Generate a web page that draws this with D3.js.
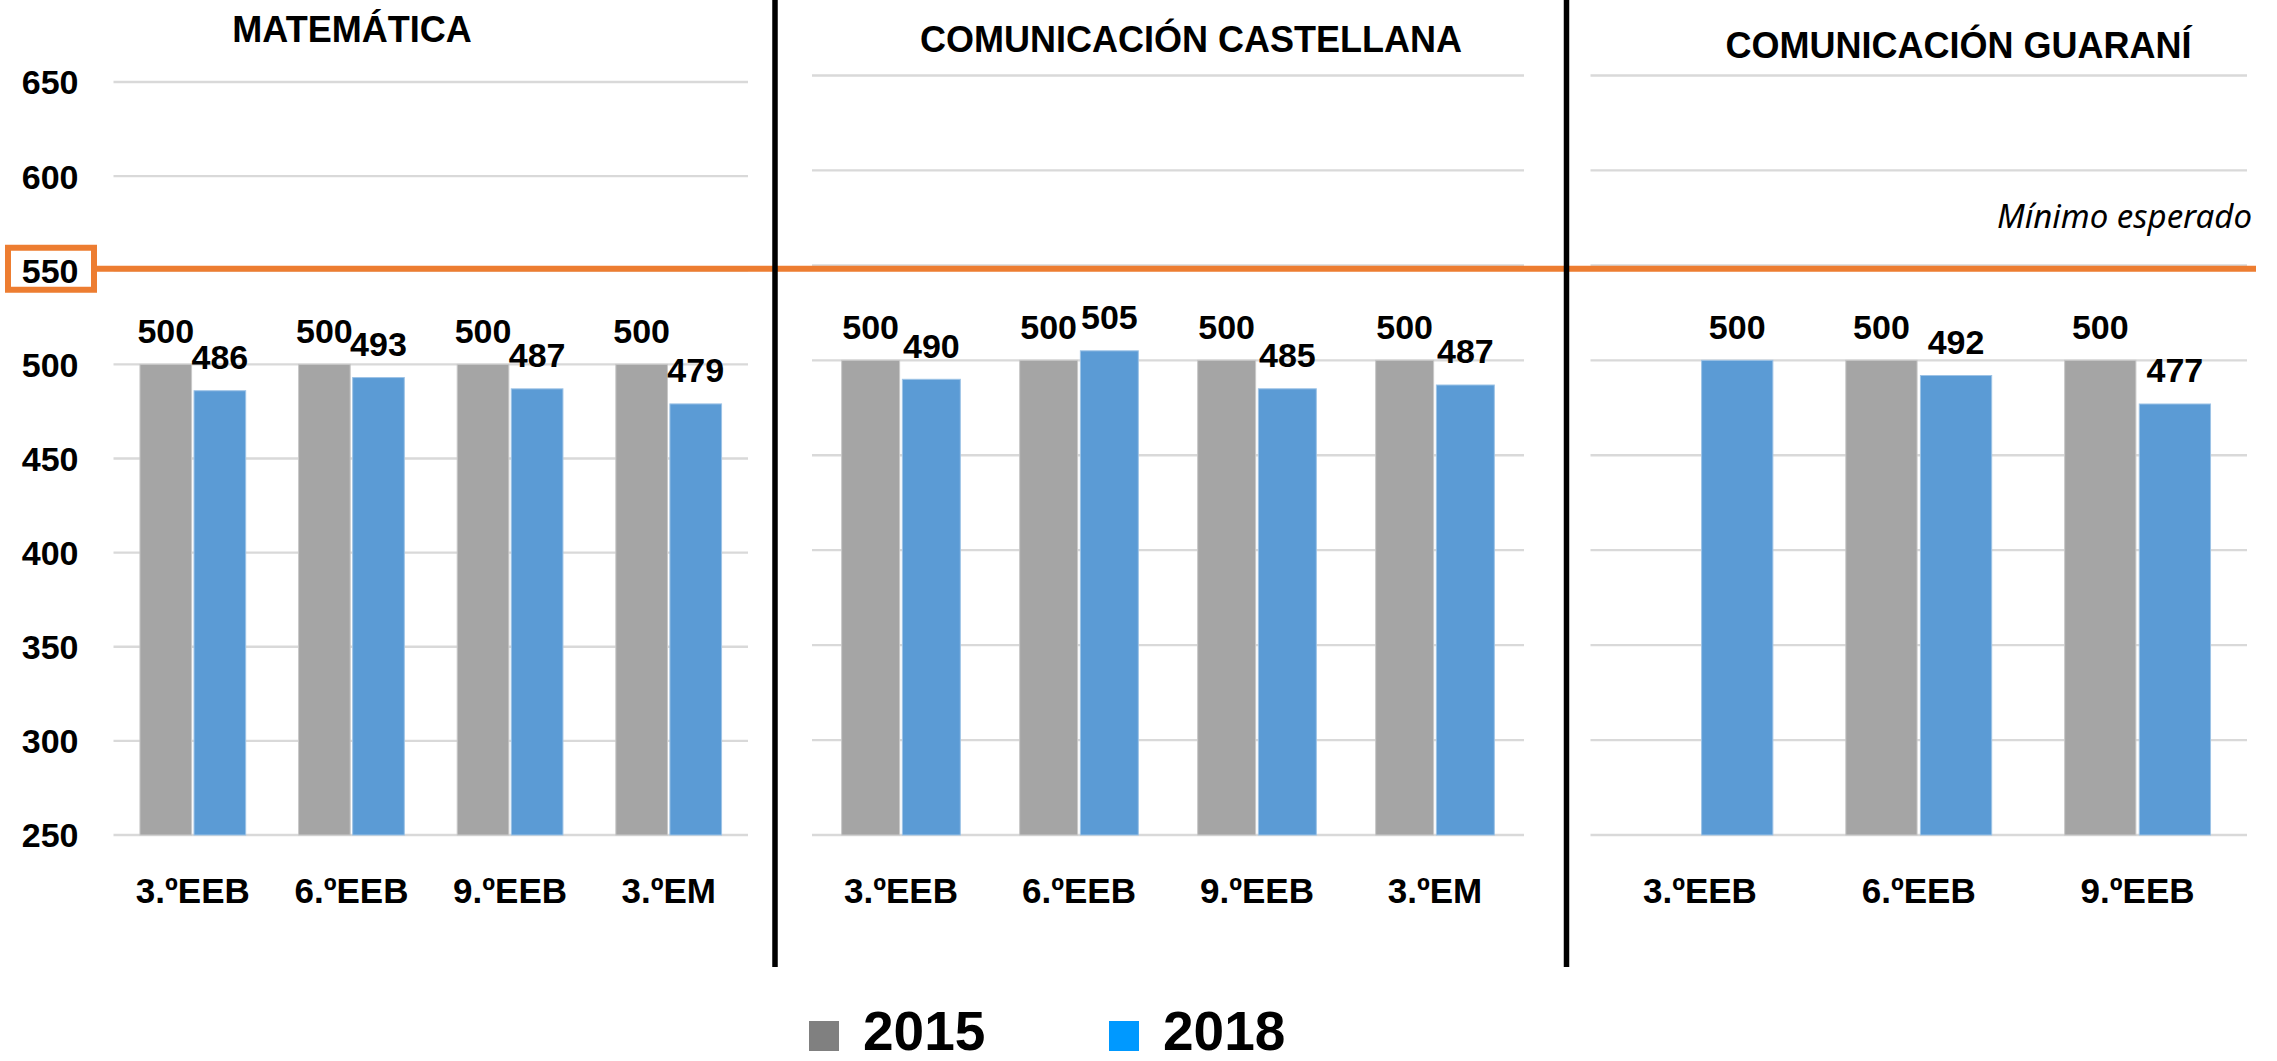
<!DOCTYPE html>
<html>
<head>
<meta charset="utf-8">
<script src="https://cdn.jsdelivr.net/npm/d3@7"></script>
<style>
        html, body { margin: 0; padding: 0; background: #fff; }
        svg { display: block; }
        text { font-family: "Liberation Sans", Arial, sans-serif; font-weight: bold; fill: #000; }
</style>
</head>
<body>
<div id="chart"></div>
<script>

// data
var years = ["2015", "2018"];
var yTicks = [250, 300, 350, 400, 450, 500, 550, 600, 650];
var minimoEsperado = 550;

var catMat = ["3.ºEEB", "6.ºEEB", "9.ºEEB", "3.ºEM"];
var mat2015 = [500, 500, 500, 500];
var mat2018 = [486, 493, 487, 479];

var catCas = ["3.ºEEB", "6.ºEEB", "9.ºEEB", "3.ºEM"];
var cas2015 = [500, 500, 500, 500];
var cas2018 = [490, 505, 485, 487];

var catGua = ["3.ºEEB", "6.ºEEB", "9.ºEEB"];
var gua2015 = [null, 500, 500];
var gua2018 = [500, 492, 477];

var ParallelBars = (function() {

        var W = 2277;
        var H = 1061;
        var COLORS = ["#A5A5A5", "#5B9BD5"];
        var LEGEND_COLORS = ["#808080", "#0099FF"];
        var ORANGE = "#ED7D31";

        var svg;

        function initFrame() {
                svg = d3.select("#chart").append("svg")
                        .attr("width", W)
                        .attr("height", H);
        }

        function drawPanel(p) {

                var x = d3.scaleBand()
                        .domain(p.cats)
                        .range([p.x0, p.x1])
                        .paddingInner(1/3)
                        .paddingOuter(1/6);

                var xs = d3.scaleBand()
                        .domain(years)
                        .range([0, x.bandwidth()])
                        .paddingInner(0.045);

                var y = d3.scaleLinear()
                        .domain([250, 650])
                        .range([835, p.yTop]);

                var g = svg.append("g").attr("class", "panel");

                // gridlines
                g.selectAll("line.grid")
                        .data(yTicks)
                        .enter().append("line")
                        .attr("class", "grid")
                        .attr("x1", p.x0)
                        .attr("x2", p.x1)
                        .attr("y1", (d) => y(d))
                        .attr("y2", (d) => y(d))
                        .style("stroke", "#D9D9D9")
                        .style("stroke-width", "2.3px");

                var rows = [];
                for (var i = 0; i < p.cats.length; i++) {
                        for (var s = 0; s < years.length; s++) {
                                var v = p.series[s][i];
                                if (v === null) continue;
                                rows.push({ "cat": p.cats[i], "year": years[s], "s": s, "v": v });
                        }
                }

                g.selectAll("rect.bar")
                        .data(rows)
                        .enter().append("rect")
                        .attr("class", "bar")
                        .attr("x", (d) => x(d.cat) + xs(d.year))
                        .attr("width", xs.bandwidth())
                        .attr("y", (d) => y(d.v))
                        .attr("height", (d) => y(250) - y(d.v))
                        .style("fill", (d) => COLORS[d.s])
                        .style("stroke", (d) => d.s == 0 ? "#C8C8C8" : "#9DC3E6")
                        .style("stroke-width", "1px");

                g.selectAll("text.val")
                        .data(rows)
                        .enter().append("text")
                        .attr("class", "val")
                        .attr("x", (d) => x(d.cat) + xs(d.year) + xs.bandwidth() / 2)
                        .attr("y", (d) => y(d.v) - 21.5)
                        .attr("text-anchor", "middle")
                        .style("font-size", "34px")
                        .text((d) => d.v);

                // category axis
                var ax = g.append("g")
                        .attr("transform", "translate(0," + y(250) + ")")
                        .call(d3.axisBottom(x).tickSize(0).tickPadding(0));
                ax.select(".domain").remove();
                ax.selectAll("text")
                        .attr("dy", null)
                        .attr("y", 68)
                        .style("font-family", "'Liberation Sans', Arial, sans-serif")
                        .style("font-weight", "bold")
                        .style("font-size", "35px")
                        .style("fill", "#000");

                g.append("text")
                        .attr("x", p.titleX)
                        .attr("y", p.titleY)
                        .attr("text-anchor", "middle")
                        .style("font-size", "36px")
                        .text(p.title);

                return y;
        }

        function drawYAxis(y) {
                var ay = svg.append("g")
                        .attr("transform", "translate(113.5,0)")
                        .call(d3.axisLeft(y).tickValues(yTicks).tickSize(0).tickPadding(35));
                ay.select(".domain").remove();
                ay.selectAll("text")
                        .attr("dy", "0.35em")
                        .style("font-family", "'Liberation Sans', Arial, sans-serif")
                        .style("font-weight", "bold")
                        .style("font-size", "34px")
                        .style("fill", "#000");
        }

        function drawMinimo(y) {
                var ym = y(minimoEsperado) - 1.5;
                svg.append("line")
                        .attr("x1", 97)
                        .attr("x2", 2256)
                        .attr("y1", ym)
                        .attr("y2", ym)
                        .style("stroke", ORANGE)
                        .style("stroke-width", "6px");
                svg.append("rect")
                        .attr("x", 8)
                        .attr("y", ym - 21)
                        .attr("width", 86)
                        .attr("height", 42)
                        .style("fill", "none")
                        .style("stroke", ORANGE)
                        .style("stroke-width", "6px");
                svg.append("text")
                        .attr("x", 2252)
                        .attr("y", 228)
                        .attr("text-anchor", "end")
                        .style("font-family", "'Noto Sans', sans-serif")
                        .style("font-weight", "normal")
                        .style("font-style", "italic")
                        .style("font-size", "33px")
                        .text("Mínimo esperado");
        }

        function drawDividers() {
                [775, 1566.5].forEach(function(xv) {
                        svg.append("line")
                                .attr("x1", xv)
                                .attr("x2", xv)
                                .attr("y1", 0)
                                .attr("y2", 967)
                                .style("stroke", "#000")
                                .style("stroke-width", "5.5px");
                });
        }

        function drawLegend() {
                var items = [
                        { "x": 809, "label": years[0], "c": LEGEND_COLORS[0] },
                        { "x": 1109, "label": years[1], "c": LEGEND_COLORS[1] }
                ];
                items.forEach(function(it) {
                        svg.append("rect")
                                .attr("x", it.x)
                                .attr("y", 1021)
                                .attr("width", 30)
                                .attr("height", 30)
                                .style("fill", it.c);
                        svg.append("text")
                                .attr("x", it.x + 54)
                                .attr("y", 1050)
                                .style("font-size", "55px")
                                .text(it.label);
                });
        }

        function init() {
                initFrame();
                var y1 = drawPanel({
                        "cats": catMat, "series": [mat2015, mat2018],
                        "x0": 113.5, "x1": 748, "yTop": 82,
                        "title": "MATEMÁTICA", "titleX": 352, "titleY": 42
                });
                drawPanel({
                        "cats": catCas, "series": [cas2015, cas2018],
                        "x0": 812, "x1": 1524, "yTop": 75.5,
                        "title": "COMUNICACIÓN CASTELLANA", "titleX": 1191, "titleY": 52
                });
                drawPanel({
                        "cats": catGua, "series": [gua2015, gua2018],
                        "x0": 1590.5, "x1": 2247, "yTop": 75.5,
                        "title": "COMUNICACIÓN GUARANÍ", "titleX": 1958.5, "titleY": 58
                });
                drawYAxis(y1);
                drawMinimo(y1);
                drawDividers();
                drawLegend();
        }

        return { "init": init };

}());

ParallelBars.init();

</script>
</body>
</html>
